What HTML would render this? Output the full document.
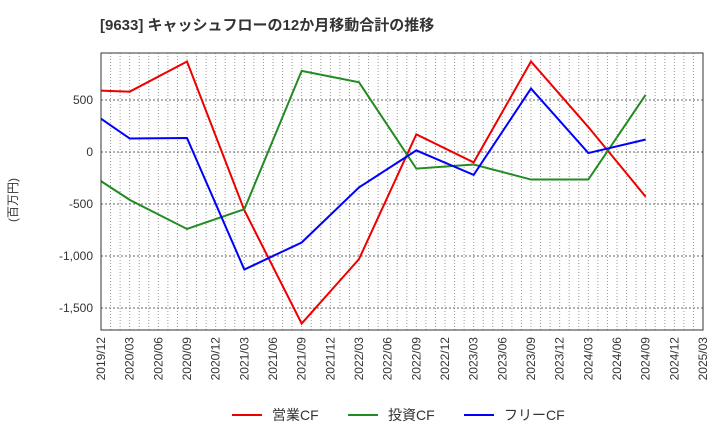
<!DOCTYPE html>
<html><head><meta charset="utf-8"><style>
body{margin:0;background:#fff;font-family:"Liberation Sans","Noto Sans CJK JP",sans-serif}
</style></head><body>
<svg width="720" height="440" xmlns="http://www.w3.org/2000/svg" font-family="Liberation Sans, Noto Sans CJK JP, sans-serif">
<text x="100" y="30" font-size="15" font-weight="bold" fill="#333">[9633]  キャッシュフローの12か月移動合計の推移</text>
<text transform="translate(17,200) rotate(-90)" font-size="12" fill="#333" text-anchor="middle">(百万円)</text>
<g id="grid"></g><g id="axes"></g><g id="series"></g>
<rect x="101" y="53" width="602" height="277" fill="none" stroke="#333" stroke-width="1"/>
<g font-size="14" fill="#333">
<line x1="232" y1="415" x2="262" y2="415" stroke="#e00" stroke-width="2"/><text x="272" y="420">営業CF</text>
<line x1="348" y1="415" x2="378" y2="415" stroke="#228b22" stroke-width="2"/><text x="388" y="420">投資CF</text>
<line x1="464" y1="415" x2="494" y2="415" stroke="#00f" stroke-width="2"/><text x="504" y="420">フリーCF</text>
</g>
</svg>
<script>
const xLabels=["2019/12","2020/03","2020/06","2020/09","2020/12","2021/03","2021/06","2021/09","2021/12","2022/03","2022/06","2022/09","2022/12","2023/03","2023/06","2023/09","2023/12","2024/03","2024/06","2024/09","2024/12","2025/03"];
const yTicks=[500,0,-500,-1000,-1500];
const yTickLabels=["500","0","-500","-1,000","-1,500"];
const pointIdx=[0,1,3,5,7,9,11,13,15,17,19];
const opCF=[590,580,870,-560,-1650,-1030,170,-100,870,240,-430];
const invCF=[-280,-460,-740,-550,780,670,-160,-120,-265,-265,550];
const freeCF=[320,130,135,-1130,-870,-340,15,-220,610,-10,120];
const NS="http://www.w3.org/2000/svg";
const X=i=>101+i*(602/21);
const Y=v=>152-v*52/500;
function mk(t,a,p){const e=document.createElementNS(NS,t);for(const k in a)e.setAttribute(k,a[k]);p.appendChild(e);return e;}
const grid=document.getElementById('grid'),axes=document.getElementById('axes'),ser=document.getElementById('series');
for(let m=1;m<63;m++){const x=101+m*602/63;const l=mk('line',{x1:x,y1:53,x2:x,y2:330,stroke:'#999','stroke-width':1,'stroke-dasharray':'1,2'},grid);

}
yTicks.forEach((v,i)=>{const l=mk('line',{x1:101,y1:Y(v),x2:703,y2:Y(v),stroke:'#666','stroke-width':1,'stroke-dasharray':'2,2'},grid);


const t=mk('text',{x:93,y:Y(v)+4,'font-size':12,fill:'#333','text-anchor':'end'},axes);t.textContent=yTickLabels[i];

});
xLabels.forEach((s,i)=>{const t=mk('text',{transform:`translate(${X(i)+4},337) rotate(-90)`,'font-size':12,fill:'#333','text-anchor':'end'},axes);t.textContent=s;

});
[[opCF,'#e00','operating-cf-line'],[invCF,'#228b22','investing-cf-line'],[freeCF,'#00f','free-cf-line']].forEach(([d,c,n])=>{
const p=mk('polyline',{points:d.map((v,i)=>X(pointIdx[i])+','+Y(v)).join(' '),fill:'none',stroke:c,'stroke-width':2},ser);

});
</script>
</body></html>
